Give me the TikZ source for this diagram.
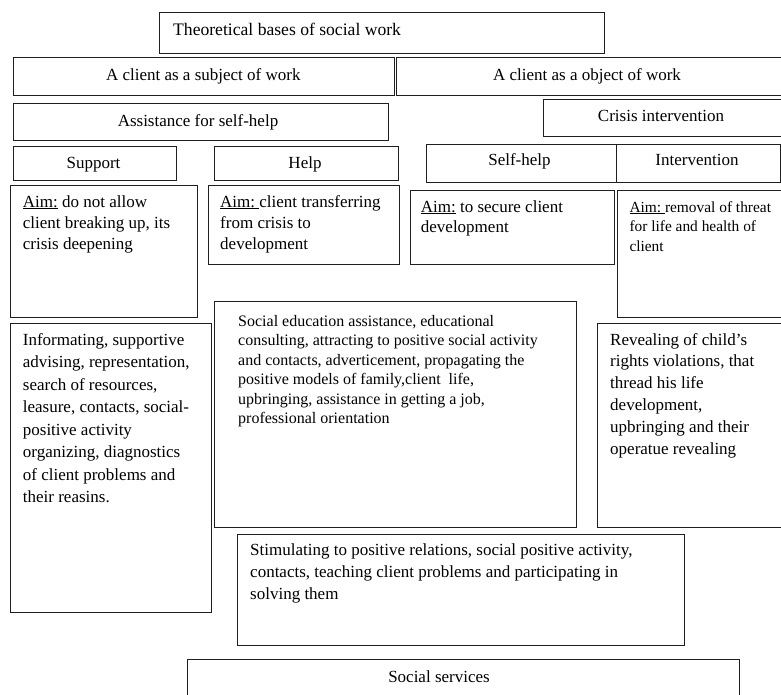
\documentclass[tikz,border=0pt]{standalone}
\usepackage{fontspec}
\setmainfont{Liberation Serif}
\tikzset{
  box/.style={draw=black!88, line width=0.9pt, inner sep=0pt, anchor=north west},
  txt/.style={inner sep=0pt, anchor=base west, font=\fontsize{17}{21.7}\selectfont},
  ctxt/.style={inner sep=0pt, anchor=base, font=\fontsize{17}{21.7}\selectfont}
}
\begin{document}
\begin{tikzpicture}[x=1pt,y=-1pt]
\useasboundingbox (0,0) rectangle (781,694);
% boxes
\node[box, minimum width=445pt, minimum height=41pt] (title) at (159,12) {};
\node[box, minimum width=381.5pt, minimum height=38pt] (subject) at (12.5,57) {};
\node[box, minimum width=387pt, minimum height=38pt] (object) at (395.5,57) {};
\node[box, minimum width=375.5pt, minimum height=36.5pt] (assist) at (12.5,103) {};
\node[box, minimum width=237.5pt, minimum height=37pt] (crisis) at (543,99) {};
\node[box, minimum width=163pt, minimum height=33.5pt] (support) at (12.5,146) {};
\node[box, minimum width=184.5pt, minimum height=33.5pt] (help) at (213.5,146) {};
\node[box, minimum width=190pt, minimum height=38pt] (selfhelp) at (426,143.5) {};
\node[box, minimum width=163.5pt, minimum height=38pt] (interv) at (616,143.5) {};
\node[box, minimum width=187.5pt, minimum height=132pt] (aimsup) at (9.5,185) {};
\node[box, minimum width=191pt, minimum height=79pt] (aimhelp) at (207.5,185) {};
\node[box, minimum width=204pt, minimum height=74.5pt] (aimself) at (409.5,189.5) {};
\node[box, minimum width=163.5pt, minimum height=127pt] (aimint) at (617,189.5) {};
\node[box, minimum width=201.5pt, minimum height=289.5pt] (inform) at (9.5,322.5) {};
\node[box, minimum width=362.5pt, minimum height=226.5pt] (soced) at (213.5,300.5) {};
\node[box, minimum width=190pt, minimum height=204.5pt] (reveal) at (596.5,322.5) {};
\node[box, minimum width=447pt, minimum height=111.5pt] (stim) at (236.5,533.5) {};
\node[box, minimum width=552.5pt, minimum height=45pt] (serv) at (186.5,658.5) {};
% single-line labels
\node[txt, font=\fontsize{17.6}{21.7}\selectfont] (ttitle) at (173,35) {Theoretical bases of social work};
\node[ctxt] (tsubject) at (203.25,80) {A client as a subject of work};
\node[ctxt] (tobject) at (587,80) {A client as a object of work};
\node[ctxt] (tassist) at (198,126) {Assistance for self-help};
\node[ctxt] (tcrisis) at (661,121.7) {Crisis intervention};
\node[ctxt] (tsupport) at (93.5,168.3) {Support};
\node[ctxt] (thelp) at (305,168.3) {Help};
\node[ctxt] (tselfhelp) at (519.5,165) {Self-help};
\node[ctxt] (tinterv) at (697,165) {Intervention};
\node[ctxt] (tserv) at (439,682) {Social services};
% multi-line texts
\node[txt, font=\fontsize{17}{21}\selectfont] (taimsup) at (22.7,207)
  {\parbox[t]{300pt}{\underline{Aim:} do not allow\\client breaking up, its\\crisis deepening}};
\node[txt, font=\fontsize{17}{21}\selectfont] (taimhelp) at (220,207)
  {\parbox[t]{300pt}{\underline{Aim:\ }client transferring\\from crisis to\\development}};
\node[txt, font=\fontsize{17}{20}\selectfont] (taimself) at (420.7,212)
  {\parbox[t]{300pt}{\underline{Aim:} to secure client\\development}};
\node[txt, font=\fontsize{15.4}{19.5}\selectfont] (taimint) at (629.3,212)
  {\parbox[t]{300pt}{\underline{Aim:\ }removal of threat\\for life and health of\\client}};
\node[txt, font=\fontsize{17}{22.57}\selectfont] (tinform) at (22.7,345)
  {\parbox[t]{300pt}{Informating, supportive\\advising, representation,\\search of resources,\\leasure, contacts, social-\\positive activity\\organizing, diagnostics\\of client problems and\\their reasins.}};
\node[txt, font=\fontsize{16}{19.5}\selectfont] (tsoced) at (238,326)
  {\parbox[t]{400pt}{Social education assistance, educational\\consulting, attracting to positive social activity\\and contacts, adverticement, propagating the\\positive models of family,client~~life,\\upbringing, assistance in getting a job,\\professional orientation}};
\node[txt, font=\fontsize{17}{21.8}\selectfont] (treveal) at (610,345)
  {\parbox[t]{300pt}{Revealing of child's\\rights violations, that\\thread his life\\development,\\upbringing and their\\operatue revealing}};
\node[txt, font=\fontsize{17}{21.7}\selectfont] (tstim) at (250,555.7)
  {\parbox[t]{500pt}{Stimulating to positive relations, social positive activity,\\contacts, teaching client problems and participating in\\solving them}};
\end{tikzpicture}
\end{document}
